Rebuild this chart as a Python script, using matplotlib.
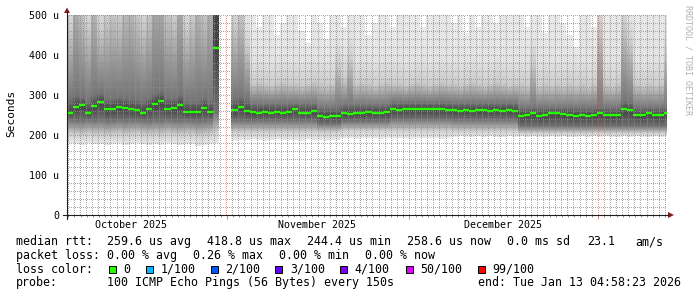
import numpy as np
import matplotlib
matplotlib.use("Agg")
import matplotlib.pyplot as plt
from matplotlib.lines import Line2D
from matplotlib.patches import Rectangle, Polygon
from matplotlib.transforms import blended_transform_factory

nan = np.nan
MONO = "DejaVu Sans Mono"

# time axis: days since 2025-10-01 00:00, one value per day
x_start, x_end = 4.78, 103.28
month_starts = [31, 61, 92]
month_label_pos = [15.3, 45.8, 76.3]
month_labels = ["October 2025", "November 2025", "December 2025"]

y_ticks = [0, 100, 200, 300, 400, 500]
y_labels = ["0", "100 u", "200 u", "300 u", "400 u", "500 u"]

# median rtt per day (microseconds), gap around Nov 1
median = [256, 270, 275, 256, 272, 283, 265, 266, 270, 268, 265, 262, 256, 266, 278,
          285, 266, 268, 275, 258, 258, 258, 267, 258, 417,
          nan, nan,
          262, 270, 260, 257, 256, 258, 256, 257, 256, 258,
          266, 256, 256, 260, 247, 246, 248, 247, 254, 253,
          256, 255, 257, 256, 256, 258, 264, 263, 265, 264,
          266, 264, 265, 264, 265, 263, 262, 261, 262, 261,
          262, 262, 261, 262, 261, 262, 261, 248, 249, 255,
          248, 249, 254, 254, 253, 250, 248, 249, 248, 250,
          256, 250, 249, 251, 264, 262, 250, 249, 255, 250,
          250, 256]

# smoke: spread of the 100 pings per day
smoke_min = [180, 178, 176, 180, 177, 178, 175, 178, 180, 176, 178, 180, 177, 175, 178,
             176, 180, 178, 175, 177, 178, 172, 176, 178, 180,
             nan, nan,
             186, 188, 187, 189, 188, 186, 188, 189, 187, 188,
             188, 186, 189, 188, 187, 186, 188, 187, 192, 193,
             191, 192, 193, 192, 191, 193, 192, 193, 192, 191,
             193, 192, 193, 192, 191, 193, 196, 197, 196, 195,
             197, 196, 197, 196, 195, 197, 196, 197, 196, 197,
             196, 195, 197, 196, 197, 196, 195, 197, 196, 197,
             196, 197, 196, 195, 197, 196, 197, 196, 195, 197,
             196, 197]
smoke_p10 = [202, 200, 198, 202, 200, 200, 198, 200, 202, 198, 200, 202, 200, 198, 200,
             198, 202, 200, 198, 200, 200, 196, 198, 200, 205,
             nan, nan,
             206, 206, 206, 206, 206, 206, 206, 206, 206, 206,
             206, 206, 206, 206, 206, 206, 206, 206, 210, 210,
             210, 210, 210, 210, 210, 210, 210, 210, 210, 210,
             210, 210, 210, 210, 210, 210, 208, 208, 208, 208,
             208, 208, 208, 208, 208, 208, 208, 204, 204, 204,
             204, 204, 204, 204, 204, 204, 204, 204, 204, 204,
             204, 204, 204, 204, 204, 204, 204, 204, 204, 204,
             204, 204]
smoke_p25 = [238, 236, 236, 238, 236, 238, 235, 236, 238, 236, 238, 238, 236, 235, 238,
             236, 238, 236, 236, 238, 236, 235, 236, 238, 258,
             nan, nan,
             236, 236, 236, 236, 236, 236, 236, 236, 236, 236,
             236, 236, 236, 236, 228, 228, 228, 228, 234, 234,
             234, 234, 234, 234, 234, 234, 240, 240, 240, 240,
             240, 240, 240, 240, 240, 240, 238, 238, 238, 238,
             238, 238, 238, 238, 238, 238, 238, 222, 222, 222,
             222, 222, 222, 222, 222, 222, 222, 222, 222, 222,
             222, 222, 222, 222, 222, 222, 222, 222, 222, 222,
             222, 222]
smoke_p75 = [290, 300, 295, 285, 300, 305, 290, 292, 295, 292, 290, 288, 285, 292, 305,
             310, 292, 292, 300, 285, 285, 285, 292, 285, 2000,
             nan, nan,
             290, 295, 288, 278, 278, 278, 278, 278, 278, 278,
             278, 278, 278, 278, 268, 268, 268, 268, 275, 275,
             275, 275, 275, 275, 275, 275, 282, 282, 282, 282,
             282, 282, 282, 282, 282, 282, 280, 280, 280, 280,
             280, 280, 280, 280, 280, 280, 280, 268, 268, 268,
             268, 268, 268, 268, 268, 268, 268, 268, 268, 268,
             268, 268, 268, 268, 285, 282, 268, 268, 268, 268,
             268, 268]
smoke_p90 = [470, 620, 540, 470, 580, 470, 500, 520, 500, 560, 580, 520, 480, 520, 660,
             640, 520, 500, 640, 470, 500, 580, 520, 610, 4000,
             nan, nan,
             480, 520, 420, 330, 335, 330, 325, 330, 335, 330,
             330, 325, 330, 335, 330, 325, 330, 380, 340, 390,
             330, 335, 330, 325, 330, 335, 330, 330, 325, 330,
             335, 330, 325, 330, 335, 330, 330, 325, 330, 335,
             330, 325, 330, 335, 330, 325, 330, 330, 325, 380,
             325, 330, 325, 330, 325, 330, 325, 330, 325, 330,
             480, 330, 325, 330, 480, 430, 330, 325, 330, 325,
             330, 400]
smoke_max = [2000, 2000, 2000, 2000, 2000, 2000, 2000, 2000, 2000, 2000, 2000, 2000, 2000,
             2000, 2000, 2000, 2000, 2000, 2000, 2000, 2000, 2000, 2000, 2000, 5000,
             nan, nan,
             600, 600, 560, 520, 470, 600, 520, 450, 480, 600,
             520, 460, 430, 600, 480, 440, 520, 600, 470, 600,
             520, 560, 450, 480, 600, 520, 470, 600, 560, 500,
             600, 470, 520, 600, 560, 600, 480, 520, 455, 600,
             470, 600, 520, 480, 600, 520, 560, 600, 470, 520,
             600, 455, 520, 600, 480, 450, 420, 560, 600, 470,
             600, 520, 600, 600, 600, 600, 520, 600, 600, 560,
             600, 600]

W, H = 697, 297
PW, PH = 600, 200  # plot area in pixels


def fx(px):
    return px / W


def fy(py):
    return 1 - py / H


fig = plt.figure(figsize=(W / 100, H / 100), dpi=100)
ax = fig.add_axes([fx(67), fy(215), PW / W, PH / H])
for s in ax.spines.values():
    s.set_visible(False)

# smoke as a per-day column image, darkest around the median
n = len(median)
ys = np.arange(0, 500.5, 0.5)
img = np.ones((len(ys), n, 4))
img[..., 3] = 0
for i in range(n):
    if np.isnan(median[i]):
        continue
    knots = [(smoke_min[i], 0.91), (smoke_p10[i], 0.82), (smoke_p25[i], 0.44),
             (median[i], 0.26), (smoke_p75[i], 0.46), (smoke_p90[i], 0.80),
             (smoke_p90[i] + 60, 0.89), (smoke_max[i], 0.92)]
    kx, kv = [], []
    for k, v in knots:
        if not kx or k > kx[-1]:
            kx.append(k)
            kv.append(v)
    g = np.interp(ys, kx, kv)
    inside = (ys >= smoke_min[i]) & (ys <= smoke_max[i])
    img[:, i, :3] = g[:, None]
    img[:, i, 3] = inside
ax.imshow(img, extent=(x_start, x_start + n, 0, 500), origin="lower",
          aspect="auto", interpolation="nearest", zorder=1)

# dotted grid (1 px on / 1 px off) as a pixel overlay on top of the smoke
days = np.arange(5, 104)
minor_x = [d for d in days if d not in month_starts]
minor_y = [v for v in range(20, 501, 20) if v % 100]
major_y = [100, 200, 300, 400, 500]
minor_rgba = (0.56, 0.56, 0.56, 0.75)
major_rgba = (0.87, 0.31, 0.31, 0.60)
grid = np.zeros((PH, PW, 4))


def col_of(d):
    return min(PW - 1, int((d - x_start) / (x_end - x_start) * PW))


def row_of(v):
    return max(0, int(round(v / 500 * PH)) - 1)


for lines, rgba, vertical in [(minor_x, minor_rgba, True), (minor_y, minor_rgba, False),
                              (month_starts, major_rgba, True), (major_y, major_rgba, False)]:
    for p in lines:
        if vertical:
            grid[0::2, col_of(p)] = rgba
        else:
            grid[row_of(p), 0::2] = rgba
ax.imshow(grid, extent=(x_start, x_end, 0, 500), origin="lower", aspect="auto",
          interpolation="nearest", zorder=2)

# small ticks below the time axis
ax.vlines(minor_x, -5, 0, colors="#909090", linewidth=0.72, clip_on=False)
ax.vlines(month_starts, -10, 0, colors="#e08080", linewidth=0.72, clip_on=False)

# median line
starts = x_start + np.arange(n)
med = np.array(median)
ok = ~np.isnan(med)
ax.hlines(med[ok], starts[ok], starts[ok] + 1, colors="#26ff00", linewidth=1.7, zorder=3)

ax.set_xlim(x_start, x_end)
ax.set_ylim(0, 500)
ax.set_xticks([])
ax.set_yticks(y_ticks)
ax.set_yticklabels(y_labels, fontfamily=MONO, fontsize=7.2)
ax.tick_params(axis="y", length=0, pad=5.5)

trans = blended_transform_factory(ax.transData, fig.transFigure)
for pos, lab in zip(month_label_pos, month_labels):
    ax.text(pos, fy(228.3), lab, transform=trans, ha="center", va="baseline",
            fontfamily=MONO, fontsize=7.2)

# axes with arrows
fig.add_artist(Line2D([fx(62.5), fx(668)], [fy(215), fy(215)], color="#1f1f1f", lw=0.8))
fig.add_artist(Line2D([fx(67), fx(67)], [fy(218.5), fy(12)], color="#1f1f1f", lw=0.8))
fig.add_artist(Polygon([[fx(668), fy(212)], [fx(674), fy(215)], [fx(668), fy(218)]],
                       closed=True, color="#801f1f", lw=0))
fig.add_artist(Polygon([[fx(64), fy(13)], [fx(67), fy(7.5)], [fx(70), fy(13)]],
                       closed=True, color="#801f1f", lw=0))

fig.text(fx(10.8), fy(113.7), "Seconds", rotation=90, ha="center", va="center",
         fontsize=8, fontfamily=MONO)
fig.text(fx(688), fy(5), "RRDTOOL / TOBI OETIKER", rotation=270, ha="center", va="top",
         fontsize=6, color="#b0b0b0", fontfamily=MONO)

# legend
def lt(x, y, s):
    fig.text(fx(x), fy(y), s, ha="left", va="baseline", fontsize=8.4, fontfamily=MONO)


rows = [245.3, 259.0, 272.7, 286.3]
lt(16, rows[0], "median rtt:")
for x, s in zip([107.3, 207.3, 307.3, 407.3, 507.3, 586.7, 635.7],
                ["259.6 us avg", "418.8 us max", "244.4 us min", "258.6 us now",
                 "0.0 ms sd", "23.1", "am/s"]):
    lt(x, rows[0], s)
lt(16, rows[1], "packet loss:")
for x, s in zip([107.3, 193.3, 279.3, 365.0],
                ["0.00 % avg", "0.26 % max", "0.00 % min", "0.00 % now"]):
    lt(x, rows[1], s)

loss_labels = ["0", "1/100", "2/100", "3/100", "4/100", "50/100", "99/100"]
loss_colors = ["#26ff00", "#00b8ff", "#0059ff", "#5e00ff", "#7e00ff", "#dd00ff", "#ff0000"]
box_x = [108.7, 145.7, 210.7, 275.3, 340.0, 405.7, 477.7]
lt(16, rows[2], "loss color:")
for bx, lab, col in zip(box_x, loss_labels, loss_colors):
    fig.add_artist(Rectangle((fx(bx), fy(rows[2])), 7 / W, 7 / H, transform=fig.transFigure,
                             facecolor=col, edgecolor="black", linewidth=0.7))
    lt(bx + 14.5, rows[2], lab)

lt(16, rows[3], "probe:")
lt(107.3, rows[3], "100 ICMP Echo Pings (56 Bytes) every 150s")
lt(478.3, rows[3], "end: Tue Jan 13 04:58:23 2026")

fig.savefig("out.png", dpi=100)
